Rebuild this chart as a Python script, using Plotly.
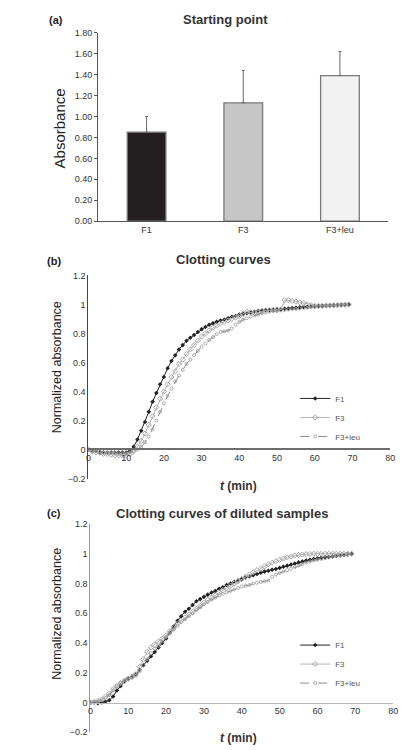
import plotly.graph_objects as go

# ---------------- data ----------------
bar_categories = ["F1", "F3", "F3+leu"]
bar_values = [0.85, 1.13, 1.39]
bar_errors = [0.15, 0.31, 0.23]

time_min = list(range(0, 70))

b_F1 = [0.00, -0.01, -0.01, -0.02, -0.02, -0.02, -0.02, -0.02, -0.02, -0.02,
        -0.02, -0.01, 0.02, 0.07, 0.13, 0.19, 0.26, 0.33, 0.39, 0.45,
        0.50, 0.56, 0.61, 0.65, 0.69, 0.72, 0.75, 0.77, 0.79, 0.81,
        0.83, 0.845, 0.86, 0.87, 0.88, 0.89, 0.895, 0.905, 0.915, 0.92,
        0.93, 0.935, 0.94, 0.945, 0.95, 0.955, 0.958, 0.96, 0.962, 0.965,
        0.966, 0.968, 0.97, 0.972, 0.975, 0.977, 0.98, 0.982, 0.984, 0.986,
        0.988, 0.99, 0.991, 0.992, 0.993, 0.994, 0.996, 0.997, 0.998, 1.00]
b_F3 = [0.00, -0.01, -0.02, -0.02, -0.03, -0.03, -0.035, -0.04, -0.04, -0.04,
        -0.04, -0.03, -0.01, 0.02, 0.06, 0.11, 0.17, 0.23, 0.29, 0.35,
        0.40, 0.45, 0.50, 0.54, 0.59, 0.62, 0.66, 0.69, 0.72, 0.75,
        0.78, 0.80, 0.82, 0.84, 0.855, 0.87, 0.88, 0.89, 0.90, 0.91,
        0.92, 0.935, 0.95, 0.945, 0.94, 0.945, 0.955, 0.96, 0.96, 0.962,
        0.963, 0.965, 1.03, 1.03, 1.025, 1.02, 1.015, 1.01, 1.00, 0.995,
        0.99, 0.99, 0.99, 0.992, 0.993, 0.994, 0.995, 0.997, 0.998, 1.00]
b_F3leu = [0.00, -0.01, -0.01, -0.015, -0.02, -0.02, -0.02, -0.025, -0.025, -0.025,
           -0.025, -0.02, -0.01, 0.00, 0.02, 0.05, 0.09, 0.14, 0.20, 0.26,
           0.32, 0.37, 0.42, 0.47, 0.51, 0.55, 0.59, 0.62, 0.65, 0.68,
           0.71, 0.73, 0.755, 0.775, 0.795, 0.81, 0.815, 0.82, 0.835, 0.86,
           0.88, 0.895, 0.905, 0.915, 0.925, 0.93, 0.94, 0.945, 0.95, 0.955,
           0.955, 0.96, 0.962, 0.965, 0.968, 0.97, 0.973, 0.976, 0.978, 0.98,
           0.982, 0.985, 0.987, 0.99, 0.992, 0.993, 0.995, 0.997, 0.998, 1.00]

c_F1 = [0.00, 0.00, -0.005, 0.00, 0.005, 0.015, 0.04, 0.08, 0.11, 0.14,
        0.16, 0.175, 0.19, 0.22, 0.25, 0.28, 0.31, 0.34, 0.37, 0.40,
        0.43, 0.47, 0.51, 0.55, 0.58, 0.61, 0.63, 0.655, 0.68, 0.695,
        0.71, 0.725, 0.74, 0.75, 0.765, 0.775, 0.79, 0.80, 0.81, 0.82,
        0.83, 0.84, 0.848, 0.856, 0.864, 0.872, 0.88, 0.886, 0.892, 0.898,
        0.905, 0.912, 0.92, 0.928, 0.935, 0.942, 0.948, 0.954, 0.96, 0.965,
        0.97, 0.973, 0.976, 0.979, 0.982, 0.985, 0.988, 0.992, 0.996, 1.00]
c_F3 = [0.00, 0.005, 0.01, 0.02, 0.04, 0.06, 0.09, 0.11, 0.13, 0.145,
        0.16, 0.17, 0.19, 0.24, 0.29, 0.34, 0.37, 0.39, 0.41, 0.43,
        0.45, 0.48, 0.50, 0.53, 0.55, 0.57, 0.59, 0.61, 0.63, 0.65,
        0.67, 0.69, 0.705, 0.72, 0.74, 0.755, 0.77, 0.785, 0.80, 0.815,
        0.83, 0.845, 0.86, 0.875, 0.89, 0.90, 0.915, 0.93, 0.94, 0.95,
        0.96, 0.968, 0.975, 0.982, 0.988, 0.992, 0.995, 0.997, 0.999, 1.00,
        1.00, 1.00, 1.00, 1.00, 1.00, 1.00, 1.00, 1.00, 1.00, 1.00]
c_F3leu = [0.00, 0.00, 0.005, 0.015, 0.03, 0.05, 0.08, 0.11, 0.13, 0.15,
           0.16, 0.17, 0.18, 0.21, 0.25, 0.29, 0.33, 0.36, 0.38, 0.41,
           0.44, 0.465, 0.49, 0.515, 0.54, 0.56, 0.58, 0.60, 0.62, 0.64,
           0.66, 0.675, 0.69, 0.705, 0.72, 0.73, 0.74, 0.75, 0.76, 0.77,
           0.78, 0.785, 0.79, 0.80, 0.805, 0.81, 0.815, 0.82, 0.845, 0.86,
           0.87, 0.88, 0.89, 0.90, 0.91, 0.92, 0.93, 0.94, 0.948, 0.955,
           0.96, 0.965, 0.97, 0.975, 0.98, 0.985, 0.99, 0.994, 0.997, 1.00]

bar_ticks = [0.0, 0.2, 0.4, 0.6, 0.8, 1.0, 1.2, 1.4, 1.6, 1.8]
curve_yticks = [-0.2, 0, 0.2, 0.4, 0.6, 0.8, 1, 1.2]
curve_yticklabels = ["\u22120.2", "0", "0.2", "0.4", "0.6", "0.8", "1", "1.2"]
curve_xticks = [0, 10, 20, 30, 40, 50, 60, 70, 80]

# ---------------- layout helpers ----------------
# The page body has an 8px default margin, so the figure is drawn 8px in
# from the top-left of the 408x750 window.
OFF = 8
W, H = 408 - OFF, 750 - OFF
FONT = "Liberation Sans, Arial, sans-serif"


def px_x(p):
    return (p - OFF) / W


def px_y(p):
    return 1 - (p - OFF) / H


fig = go.Figure()

# Panel (a) bars
fig.add_trace(go.Bar(
    x=bar_categories, y=bar_values,
    marker=dict(color=["#231f20", "#c6c6c6", "#f1f1f1"],
                line=dict(color="#7a7a7a", width=1.3)),
    width=0.4,
    error_y=dict(type="data", symmetric=False, array=bar_errors,
                 arrayminus=[0, 0, 0], color="#6a6a6a", thickness=1, width=1.5),
    xaxis="x", yaxis="y", showlegend=False,
))

series_style = {
    "F1": dict(line=dict(color="#222222", width=1),
               marker=dict(symbol="diamond", size=3.5, color="#222222")),
    "F3": dict(line=dict(color="#b5b5b5", width=1),
               marker=dict(symbol="diamond-open", size=4, color="#a8a8a8",
                           line=dict(width=1))),
    "F3+leu": dict(line=dict(color="#8a8a8a", width=1, dash="dash"),
                   marker=dict(symbol="circle-open", size=3, color="#999999",
                               line=dict(width=0.8))),
}

for name, vals in [("F1", b_F1), ("F3", b_F3), ("F3+leu", b_F3leu)]:
    fig.add_trace(go.Scatter(x=time_min, y=vals, mode="lines+markers", name=name,
                             xaxis="x2", yaxis="y2", legend="legend",
                             **series_style[name]))

for name, vals in [("F1", c_F1), ("F3", c_F3), ("F3+leu", c_F3leu)]:
    fig.add_trace(go.Scatter(x=time_min, y=vals, mode="lines+markers", name=name,
                             xaxis="x3", yaxis="y3", legend="legend2",
                             **series_style[name]))

tickfont = dict(family=FONT, size=9, color="#333333")

fig.update_layout(
    width=W, height=H,
    margin=dict(l=0, r=0, t=0, b=0),
    paper_bgcolor="white", plot_bgcolor="white",
    font=dict(family=FONT, color="#222222"),
    # panel a
    xaxis=dict(domain=[px_x(97), px_x(393)], anchor="y", showline=True,
               linecolor="#555555", linewidth=1.2, ticks="", tickfont=tickfont,
               showgrid=False, zeroline=False),
    yaxis=dict(domain=[px_y(219), px_y(28)], anchor="x", range=[0, 1.8],
               tickvals=bar_ticks, tickformat=".2f", ticks="outside", ticklen=3,
               tickcolor="#555555", showline=True, linecolor="#555555",
               linewidth=1.2, tickfont=tickfont, showgrid=False, zeroline=False),
    # panel b
    xaxis2=dict(domain=[px_x(87), px_x(395)], anchor="free", position=px_y(450),
                range=[0, 80], tickvals=curve_xticks, ticks="", showline=True,
                linecolor="#6d6d6d", linewidth=2, tickfont=tickfont,
                showgrid=False, zeroline=False),
    yaxis2=dict(domain=[px_y(480), px_y(274)], anchor="x2", range=[-0.2, 1.2],
                tickvals=curve_yticks, ticktext=curve_yticklabels, ticks="",
                showline=True, linecolor="#444444", linewidth=1.2,
                tickfont=tickfont, showgrid=False, zeroline=False),
    # panel c
    xaxis3=dict(domain=[px_x(89), px_x(398)], anchor="free", position=px_y(707),
                range=[0, 80], tickvals=curve_xticks, ticks="", showline=True,
                linecolor="#b8b8b8", linewidth=1, tickfont=tickfont,
                showgrid=False, zeroline=False),
    yaxis3=dict(domain=[px_y(737), px_y(526)], anchor="x3", range=[-0.2, 1.2],
                tickvals=curve_yticks, ticktext=curve_yticklabels, ticks="",
                showline=True, linecolor="#999999", linewidth=1,
                tickfont=tickfont, showgrid=False, zeroline=False),
    legend=dict(x=px_x(298), y=px_y(384), xanchor="left", yanchor="top",
                font=dict(family=FONT, size=8, color="#555555"),
                bgcolor="rgba(0,0,0,0)", tracegroupgap=0, itemwidth=30,
                traceorder="normal"),
    legend2=dict(x=px_x(298), y=px_y(634), xanchor="left", yanchor="top",
                 font=dict(family=FONT, size=8, color="#555555"),
                 bgcolor="rgba(0,0,0,0)", tracegroupgap=0, itemwidth=30,
                 traceorder="normal"),
)

ann = []


def add_text(text, x, y, size, bold=False, angle=0, color="#222222"):
    t = f"<b>{text}</b>" if bold else text
    ann.append(dict(text=t, x=px_x(x), y=px_y(y), xref="paper", yref="paper",
                    showarrow=False, textangle=angle, xanchor="center",
                    yanchor="middle", font=dict(family=FONT, size=size, color=color)))


add_text("(a)", 54, 15, 11, bold=True)
add_text("Starting point", 227, 15, 13, bold=True, color="#333333")
add_text("Absorbance", 57, 125, 15, angle=-90)
add_text("(b)", 52, 259, 11, bold=True)
add_text("Clotting curves", 225, 258, 13, bold=True, color="#333333")
add_text("Normalized absorbance", 55, 367, 12.5, angle=-90)
add_text("<i>t</i> (min)", 240, 487, 12, bold=True, color="#333333")
add_text("(c)", 52, 515, 11, bold=True)
add_text("Clotting curves of diluted samples", 223, 515, 13, bold=True, color="#333333")
add_text("Normalized absorbance", 55, 617, 12.5, angle=-90)
add_text("<i>t</i> (min)", 240, 743, 12, bold=True, color="#333333")

fig.update_layout(annotations=ann)

fig.write_html("out.html")
